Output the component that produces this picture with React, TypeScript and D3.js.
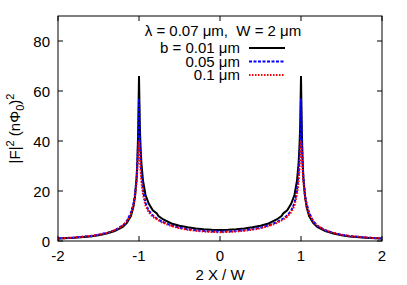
import * as d3 from 'd3';

// positions 2X/W shared by all three curves
const xs = [-2, -1.8, -1.6, -1.5, -1.4, -1.3, -1.2, -1.15, -1.1, -1.07, -1.05, -1.03, -1.02, -1.01, -1, -0.99, -0.98, -0.97, -0.95, -0.92, -0.88, -0.83, -0.78, -0.76, -0.7, -0.6, -0.5, -0.4, -0.3, -0.2, -0.1, 0,
  0.1, 0.2, 0.3, 0.4, 0.5, 0.6, 0.7, 0.76, 0.78, 0.83, 0.88, 0.92, 0.95, 0.97, 0.98, 0.99, 1, 1.01, 1.02, 1.03, 1.05, 1.07, 1.1, 1.15, 1.2, 1.3, 1.4, 1.5, 1.6, 1.8, 2];

const b001 = [1.0, 1.3, 1.8, 2.3, 3.0, 4.0, 5.6, 7.2, 10, 13.5, 17.5, 25, 32, 44, 66, 46, 37, 31, 24, 18.5, 15, 12.3, 11.0, 10.0, 8.6, 7.0, 6.1, 5.5, 5.0, 4.7, 4.5, 4.4,
  4.5, 4.7, 5.0, 5.5, 6.1, 7.0, 8.6, 10.0, 11.0, 12.3, 15, 18.5, 24, 31, 37, 46, 66, 44, 32, 25, 17.5, 13.5, 10, 7.2, 5.6, 4.0, 3.0, 2.3, 1.8, 1.3, 1.0];

const b005 = [1.0, 1.4, 2.0, 2.5, 3.2, 4.3, 6.2, 8.0, 11.3, 14.8, 18.5, 25, 31, 41, 57, 41, 32, 26.5, 20, 15.2, 12.2, 10.2, 9.0, 8.6, 7.5, 6.2, 5.3, 4.7, 4.3, 4.0, 3.8, 3.7,
  3.8, 4.0, 4.3, 4.7, 5.3, 6.2, 7.5, 8.6, 9.0, 10.2, 12.2, 15.2, 20, 26.5, 32, 41, 57, 41, 31, 25, 18.5, 14.8, 11.3, 8.0, 6.2, 4.3, 3.2, 2.5, 2.0, 1.4, 1.0];

const b01 = [1.0, 1.4, 2.0, 2.5, 3.2, 4.3, 6.1, 7.8, 10.8, 14, 17.5, 23.5, 28.5, 35, 40, 34, 28, 23.5, 18.5, 14.2, 11.5, 9.7, 8.6, 8.2, 7.2, 6.0, 5.1, 4.5, 4.1, 3.8, 3.6, 3.5,
  3.6, 3.8, 4.1, 4.5, 5.1, 6.0, 7.2, 8.2, 8.6, 9.7, 11.5, 14.2, 18.5, 23.5, 28, 34, 40, 35, 28.5, 23.5, 17.5, 14, 10.8, 7.8, 6.1, 4.3, 3.2, 2.5, 2.0, 1.4, 1.0];

const xTicks = [-2, -1, 0, 1, 2];
const yTicks = [0, 20, 40, 60, 80];

const seriesLabels = ['b = 0.01 \u03bcm', '0.05 \u03bcm', '0.1 \u03bcm'];

const W = 407;
const H = 285;
const left = 58, right = 382, top = 16, bottom = 241;
const font = '"Liberation Sans", Arial, sans-serif';

export default function App() {
  const x = d3.scaleLinear().domain([-2, 2]).range([left, right]);
  const y = d3.scaleLinear().domain([0, 90]).range([bottom, top]);

  const line = d3.line<number>()
    .x((_, i) => x(xs[i]))
    .y(d => y(d));

  const series = [
    { vals: b001, color: '#000000', dash: undefined, width: 2 },
    { vals: b005, color: '#0000ff', dash: '3,1.5', width: 2 },
    { vals: b01, color: '#ff0000', dash: '1.5,1.5', width: 2 },
  ];

  return (
    <div style={{ position: 'absolute', left: 0, top: 0 }}>
      <svg width={W} height={H} style={{ display: 'block', background: '#fff' }} fontFamily={font}>
        <defs>
          <clipPath id="plotClip">
            <rect x={left} y={top} width={right - left} height={bottom - top} />
          </clipPath>
        </defs>

        {/* ticks, mirrored on all four sides */}
        {xTicks.map(t => (
          <g key={'x' + t}>
            <line x1={x(t)} x2={x(t)} y1={bottom} y2={bottom - 5} stroke="#000" />
            <line x1={x(t)} x2={x(t)} y1={top} y2={top + 5} stroke="#000" />
            <text x={x(t)} y={261} textAnchor="middle" fontSize={15}>{t}</text>
          </g>
        ))}
        {yTicks.map(t => (
          <g key={'y' + t}>
            <line x1={left} x2={left + 5} y1={y(t)} y2={y(t)} stroke="#000" />
            <line x1={right} x2={right - 5} y1={y(t)} y2={y(t)} stroke="#000" />
            <text x={50} y={y(t) + 5.5} textAnchor="end" fontSize={15}>{t}</text>
          </g>
        ))}

        <g clipPath="url(#plotClip)">
          {series.map((s, i) => (
            <path key={i} d={line(s.vals) ?? ''} fill="none" stroke={s.color}
              strokeWidth={s.width} strokeDasharray={s.dash} />
          ))}
        </g>

        <rect x={left} y={top} width={right - left} height={bottom - top} fill="none" stroke="#000" />

        {/* key */}
        <text x={223} y={36} textAnchor="middle" fontSize={15} style={{ whiteSpace: 'pre' }}>
          {'\u03bb = 0.07 \u03bcm,  W = 2 \u03bcm'}
        </text>
        {series.map((s, i) => (
          <g key={'k' + i}>
            <text x={240} y={53 + i * 13.5} textAnchor="end" fontSize={15}>{seriesLabels[i]}</text>
            <line x1={249} x2={285} y1={48 + i * 13.5} y2={48 + i * 13.5} stroke={s.color}
              strokeWidth={s.width} strokeDasharray={s.dash} />
          </g>
        ))}

        {/* axis titles */}
        <text x={220} y={280} textAnchor="middle" fontSize={15}>2 X / W</text>
        <text transform={`translate(20,${(top + bottom) / 2}) rotate(-90)`} textAnchor="middle" fontSize={15}>
          |F|<tspan dy={-6} fontSize={11}>2</tspan>
          <tspan dy={6}> (n</tspan>Φ<tspan dy={4} fontSize={11}>0</tspan>
          <tspan dy={-4}>)</tspan><tspan dy={-6} fontSize={11}>2</tspan>
        </text>
      </svg>
    </div>
  );
}
